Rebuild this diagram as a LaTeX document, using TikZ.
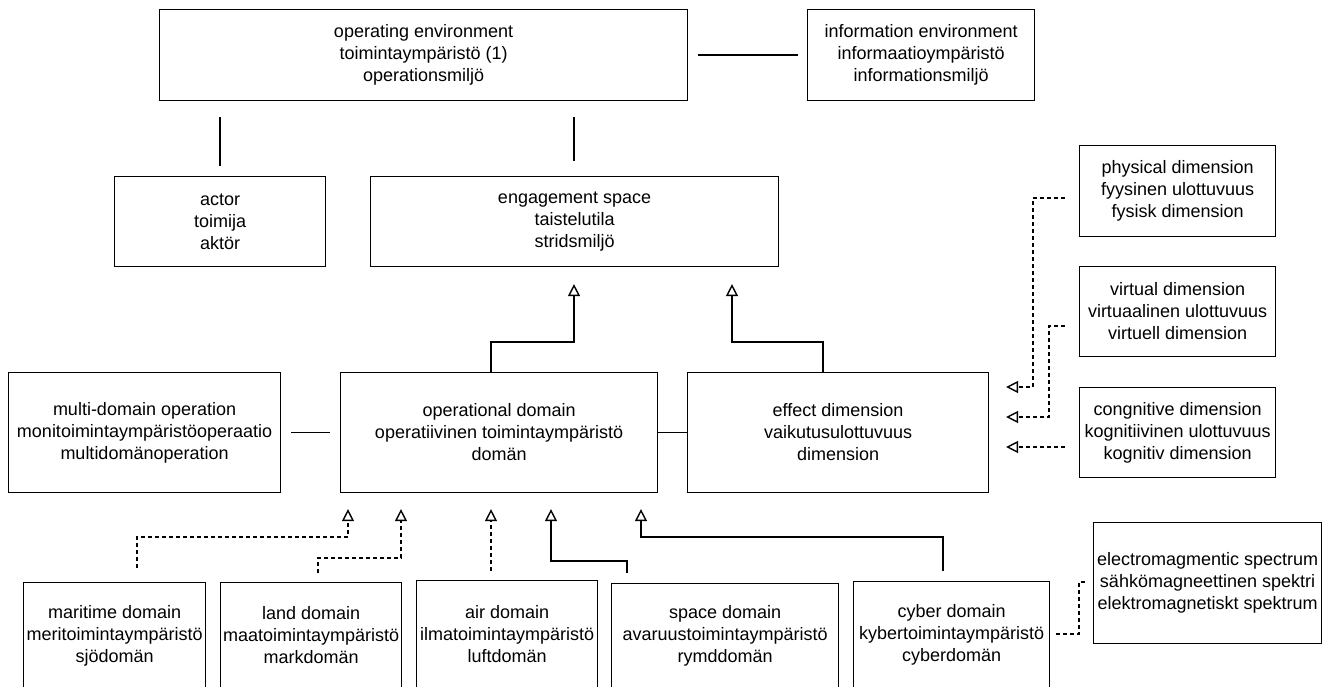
\documentclass[tikz,border=0pt]{standalone}
\usepackage{fontspec}
\setmainfont{Liberation Sans}
\usetikzlibrary{arrows.meta}
\begin{document}
\begin{tikzpicture}[x=1pt,y=-1pt,
  box/.style={draw=black, line width=1.1pt, fill=white, inner sep=0pt, anchor=north west, align=center,
    font=\fontsize{18}{22}\selectfont},
  conn/.style={line width=1.3pt, black},
  dconn/.style={line width=1.2pt, black, dash pattern=on 4pt off 3pt},
  gen/.style={-{Triangle[open,width=12pt,length=12pt,line width=1.4pt,fill=white]}},
]
\clip (0,0) rectangle (1333,686);
\fill[white] (0,0) rectangle (1333,686);

% boxes
\node[box, minimum width=528pt, minimum height=91pt] (openv) at (159,9) {operating environment\\toimintaympäristö (1)\\operationsmiljö};
\node[box, minimum width=227pt, minimum height=91pt] (info) at (807,9) {information environment\\informaatioympäristö\\informationsmiljö};
\node[box, minimum width=211pt, minimum height=90pt] (actor) at (114,176) {actor\\toimija\\aktör};
\node[box, minimum width=408pt, minimum height=90pt] (eng) at (370,176) {engagement space\\taistelutila\\stridsmiljö};
\node[box, minimum width=196pt, minimum height=91pt] (phys) at (1079,145) {physical dimension\\fyysinen ulottuvuus\\fysisk dimension};
\node[box, minimum width=196pt, minimum height=90pt] (virt) at (1079,266) {virtual dimension\\virtuaalinen ulottuvuus\\virtuell dimension};
\node[box, minimum width=196pt, minimum height=90pt] (cog) at (1079,387) {congnitive dimension\\kognitiivinen ulottuvuus\\kognitiv dimension};
\node[box, minimum width=272pt, minimum height=120pt] (multi) at (8,372) {multi-domain operation\\monitoimintaympäristöoperaatio\\multidomänoperation};
\node[box, minimum width=317pt, minimum height=120pt] (op) at (340,372) {operational domain\\operatiivinen toimintaympäristö\\domän};
\node[box, minimum width=301pt, minimum height=120pt] (eff) at (687,372) {effect dimension\\vaikutusulottuvuus\\dimension};
\node[box, minimum width=228pt, minimum height=121pt] (em) at (1093,522) {electromagmentic spectrum\\sähkömagneettinen spektri\\elektromagnetiskt spektrum};
\node[box, minimum width=182pt, minimum height=106pt] (mar) at (23,582) {maritime domain\\meritoimintaympäristö\\sjödomän};
\node[box, minimum width=181pt, minimum height=106pt] (land) at (220,582) {land domain\\maatoimintaympäristö\\markdomän};
\node[box, minimum width=181pt, minimum height=108pt] (air) at (416,580) {air domain\\ilmatoimintaympäristö\\luftdomän};
\node[box, minimum width=227pt, minimum height=105pt] (space) at (611,583) {space domain\\avaruustoimintaympäristö\\rymddomän};
\node[box, minimum width=196pt, minimum height=107pt] (cyber) at (853,581) {cyber domain\\kybertoimintaympäristö\\cyberdomän};

% plain associations
\draw[conn, shorten <=10pt, shorten >=9pt] (openv.east) -- (info.west);
\draw[conn, shorten <=16pt, shorten >=10pt] (220,0 |- openv.south) -- (220,0 |- actor.north);
\draw[conn, shorten <=16pt, shorten >=15pt] (574,0 |- openv.south) -- (574,0 |- eng.north);
\draw[conn, shorten <=10pt, shorten >=10pt] (multi.east) -- (op.west);
\draw[conn] (op.east) -- (eff.west);

% generalisations to engagement space
\draw[conn, gen, shorten >=17pt] (491,0 |- op.north) |- (574,342) -- (574,0 |- eng.south);
\draw[conn, gen, shorten >=17pt] (823,0 |- eff.north) |- (732,342) -- (732,0 |- eng.south);

% dimensions to effect dimension
\draw[dconn, gen, shorten <=14pt, shorten >=17pt] (phys.west |- 0,198) -| (1033,387) -- (eff.east |- 0,387);
\draw[dconn, gen, shorten <=14pt, shorten >=17pt] (virt.west |- 0,326) -| (1049,417) -- (eff.east |- 0,417);
\draw[dconn, gen, shorten <=14pt, shorten >=17pt] (cog.west |- 0,447) -- (eff.east |- 0,447);

% domains to operational domain
\draw[dconn, gen, shorten <=14pt, shorten >=16pt] (137,0 |- mar.north) |- (348,537) -- (348,0 |- op.south);
\draw[dconn, gen, shorten <=9pt, shorten >=16pt] (318,0 |- land.north) |- (401,558) -- (401,0 |- op.south);
\draw[dconn, gen, shorten <=9pt, shorten >=16pt] (491,0 |- air.north) -- (491,0 |- op.south);
\draw[conn, gen, shorten <=10pt, shorten >=16pt] (627,0 |- space.north) |- (551,561) -- (551,0 |- op.south);
\draw[conn, gen, shorten <=10pt, shorten >=16pt] (943,0 |- cyber.north) |- (641,537) -- (641,0 |- op.south);

% cyber to electromagnetic spectrum
\draw[dconn, shorten <=6pt, shorten >=5pt] (cyber.east |- 0,634) -| (1079,582) -- (em.west |- 0,582);
\end{tikzpicture}
\end{document}
